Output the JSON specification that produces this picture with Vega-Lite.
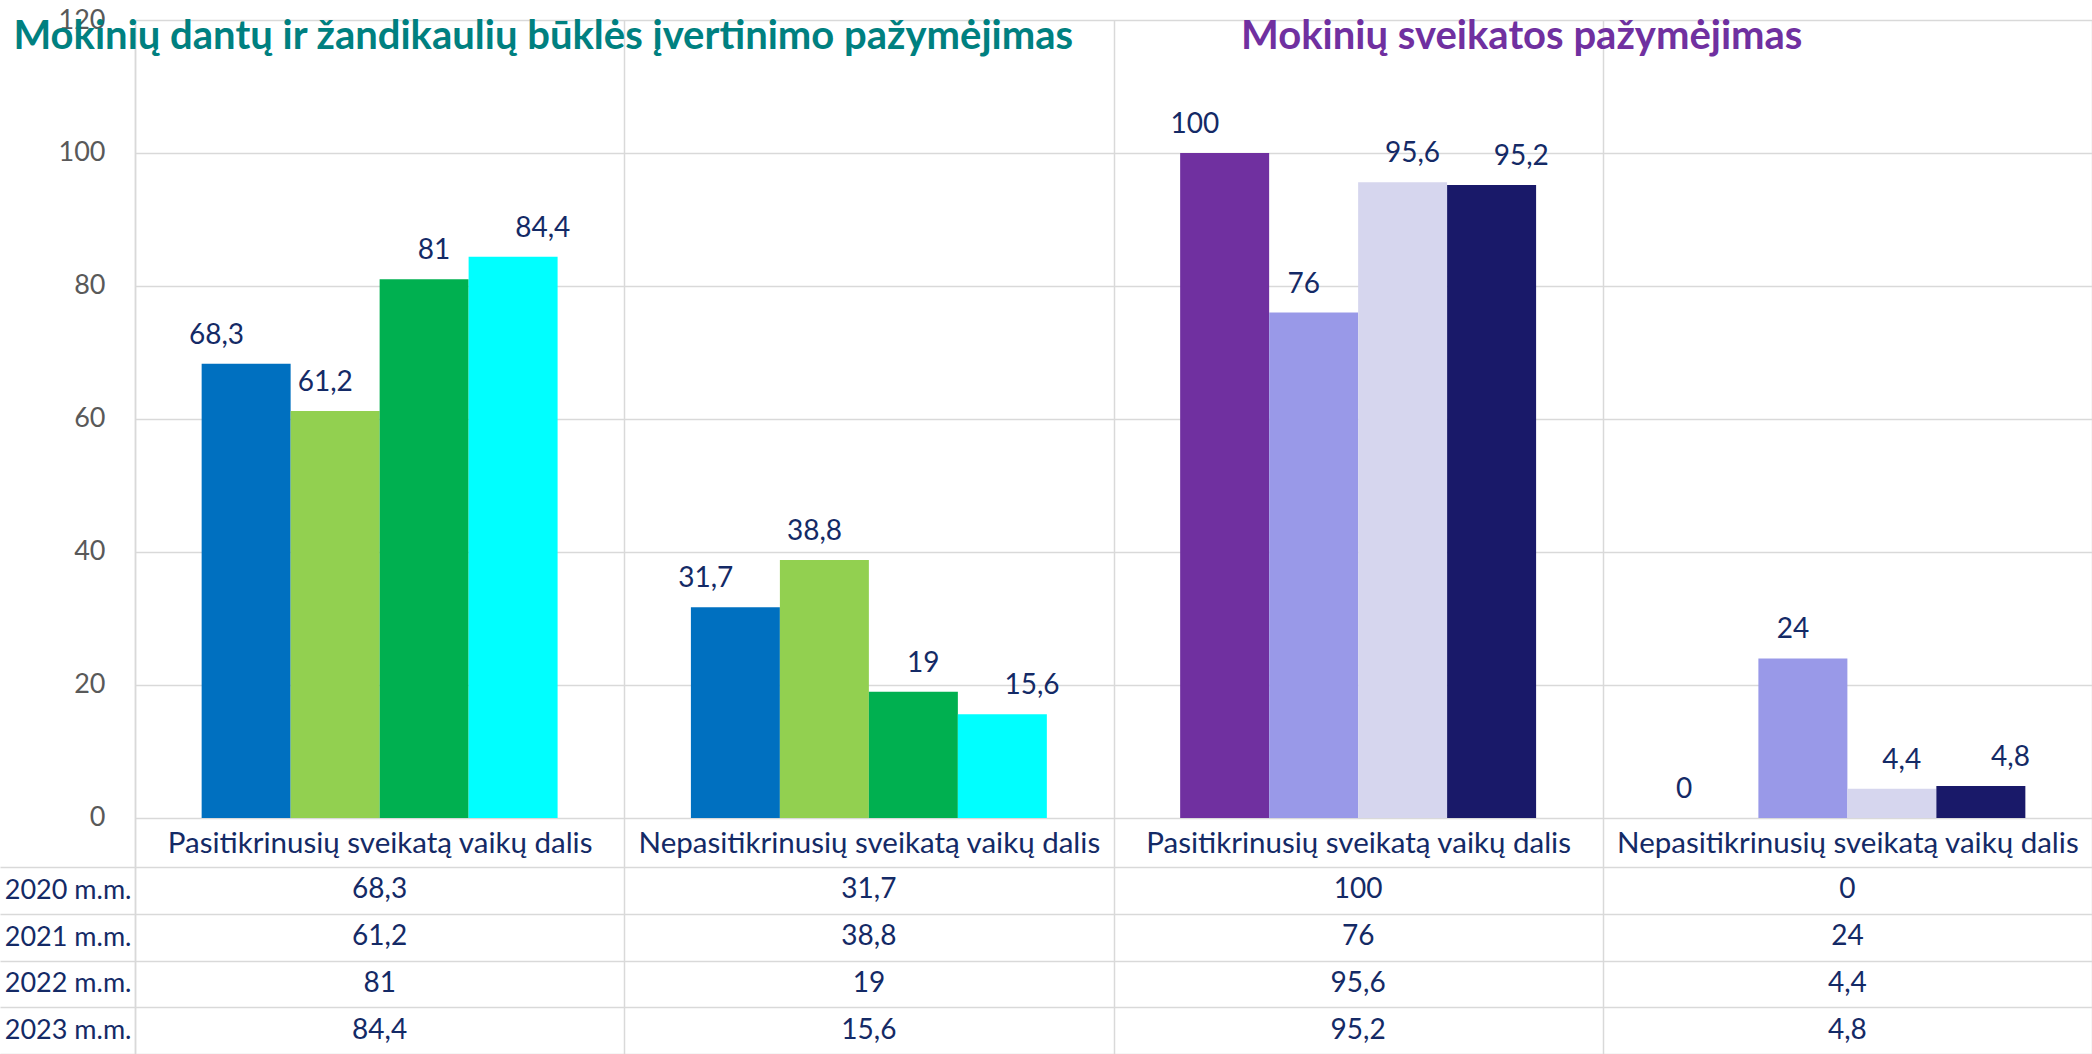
{
  "$schema": "https://vega.github.io/schema/vega-lite/v6.json",
  "width": 1957,
  "height": 1034,
  "autosize": {"type": "none"},
  "padding": {"left": 135, "top": 20, "right": 0, "bottom": 0},
  "background": "white",
  "config": {
    "view": {"stroke": null},
    "font": "Lato",
    "locale": {"number": {"decimal": ",", "thousands": " ", "grouping": [3], "currency": ["", " €"]}}
  },
  "datasets": {
    "duomenys": [
      {"grupe": "dantys", "stulpelis": "dantys|Pasitikrinusių sveikatą vaikų dalis", "metai": "2020 m.m.", "serija": "dantys 2020 m.m.", "reiksme": 68.3},
      {"grupe": "dantys", "stulpelis": "dantys|Pasitikrinusių sveikatą vaikų dalis", "metai": "2021 m.m.", "serija": "dantys 2021 m.m.", "reiksme": 61.2},
      {"grupe": "dantys", "stulpelis": "dantys|Pasitikrinusių sveikatą vaikų dalis", "metai": "2022 m.m.", "serija": "dantys 2022 m.m.", "reiksme": 81},
      {"grupe": "dantys", "stulpelis": "dantys|Pasitikrinusių sveikatą vaikų dalis", "metai": "2023 m.m.", "serija": "dantys 2023 m.m.", "reiksme": 84.4},
      {"grupe": "dantys", "stulpelis": "dantys|Nepasitikrinusių sveikatą vaikų dalis", "metai": "2020 m.m.", "serija": "dantys 2020 m.m.", "reiksme": 31.7},
      {"grupe": "dantys", "stulpelis": "dantys|Nepasitikrinusių sveikatą vaikų dalis", "metai": "2021 m.m.", "serija": "dantys 2021 m.m.", "reiksme": 38.8},
      {"grupe": "dantys", "stulpelis": "dantys|Nepasitikrinusių sveikatą vaikų dalis", "metai": "2022 m.m.", "serija": "dantys 2022 m.m.", "reiksme": 19},
      {"grupe": "dantys", "stulpelis": "dantys|Nepasitikrinusių sveikatą vaikų dalis", "metai": "2023 m.m.", "serija": "dantys 2023 m.m.", "reiksme": 15.6},
      {"grupe": "sveikata", "stulpelis": "sveikata|Pasitikrinusių sveikatą vaikų dalis", "metai": "2020 m.m.", "serija": "sveikata 2020 m.m.", "reiksme": 100},
      {"grupe": "sveikata", "stulpelis": "sveikata|Pasitikrinusių sveikatą vaikų dalis", "metai": "2021 m.m.", "serija": "sveikata 2021 m.m.", "reiksme": 76},
      {"grupe": "sveikata", "stulpelis": "sveikata|Pasitikrinusių sveikatą vaikų dalis", "metai": "2022 m.m.", "serija": "sveikata 2022 m.m.", "reiksme": 95.6},
      {"grupe": "sveikata", "stulpelis": "sveikata|Pasitikrinusių sveikatą vaikų dalis", "metai": "2023 m.m.", "serija": "sveikata 2023 m.m.", "reiksme": 95.2},
      {"grupe": "sveikata", "stulpelis": "sveikata|Nepasitikrinusių sveikatą vaikų dalis", "metai": "2020 m.m.", "serija": "sveikata 2020 m.m.", "reiksme": 0},
      {"grupe": "sveikata", "stulpelis": "sveikata|Nepasitikrinusių sveikatą vaikų dalis", "metai": "2021 m.m.", "serija": "sveikata 2021 m.m.", "reiksme": 24},
      {"grupe": "sveikata", "stulpelis": "sveikata|Nepasitikrinusių sveikatą vaikų dalis", "metai": "2022 m.m.", "serija": "sveikata 2022 m.m.", "reiksme": 4.4},
      {"grupe": "sveikata", "stulpelis": "sveikata|Nepasitikrinusių sveikatą vaikų dalis", "metai": "2023 m.m.", "serija": "sveikata 2023 m.m.", "reiksme": 4.8}
    ],
    "antrastes": [
      {"grupe": "dantys", "tekstas": "Mokinių dantų ir žandikaulių būklės įvertinimo pažymėjimas"},
      {"grupe": "sveikata", "tekstas": "Mokinių sveikatos pažymėjimas"}
    ]
  },
  "resolve": {"scale": {"x": "independent", "y": "independent", "color": "independent", "xOffset": "independent"}},
  "layer": [
    {
      "data": {"name": "duomenys"},
      "mark": {"type": "bar"},
      "encoding": {
        "x": {
          "field": "stulpelis", "type": "nominal",
          "scale": {"domain": ["dantys|Pasitikrinusių sveikatą vaikų dalis", "dantys|Nepasitikrinusių sveikatą vaikų dalis", "sveikata|Pasitikrinusių sveikatą vaikų dalis", "sveikata|Nepasitikrinusių sveikatą vaikų dalis"], "paddingInner": 0, "paddingOuter": 0},
          "axis": {"orient": "bottom", "offset": -236, "title": null, "domain": false, "ticks": false, "labelPadding": 25, "labelBaseline": "middle", "labelAngle": 0, "labelFont": "Lato", "labelFontSize": 29.5, "labelColor": "#142a66", "labelLimit": 0, "labelExpr": "split(datum.label, '|')[1]", "grid": true, "gridColor": "#d9d9d9", "gridWidth": 1.5, "tickBand": "extent"}
        },
        "xOffset": {"field": "metai", "type": "nominal", "scale": {"paddingInner": 0, "paddingOuter": 0.749}},
        "y": {
          "field": "reiksme", "type": "quantitative", "stack": null,
          "scale": {"domain": [-35.49, 120], "nice": false, "zero": false},
          "axis": {"orient": "left", "values": [0, 20, 40, 60, 80, 100, 120], "title": null, "ticks": false, "labelPadding": 30, "labelFont": "Lato", "labelFontSize": 27, "labelColor": "#595959", "grid": true, "gridColor": "#d9d9d9", "gridWidth": 1.5, "domain": true, "domainColor": "#d9d9d9", "domainWidth": 1.5}
        },
        "color": {
          "field": "serija", "type": "nominal", "legend": null,
          "scale": {
            "domain": ["dantys 2020 m.m.", "dantys 2021 m.m.", "dantys 2022 m.m.", "dantys 2023 m.m.", "sveikata 2020 m.m.", "sveikata 2021 m.m.", "sveikata 2022 m.m.", "sveikata 2023 m.m."],
            "range": ["#0070C0", "#92D050", "#00B050", "#00FFFF", "#7030A0", "#9999E8", "#D6D6EE", "#191969"]
          }
        }
      }
    },
    {
      "data": {"name": "duomenys"},
      "mark": {"type": "text", "fontSize": 28, "color": "#142a66", "align": "center", "baseline": "alphabetic", "dy": -20},
      "encoding": {
        "x": {"field": "stulpelis", "type": "nominal", "axis": null,
          "scale": {"domain": ["dantys|Pasitikrinusių sveikatą vaikų dalis", "dantys|Nepasitikrinusių sveikatą vaikų dalis", "sveikata|Pasitikrinusių sveikatą vaikų dalis", "sveikata|Nepasitikrinusių sveikatą vaikų dalis"], "paddingInner": 0, "paddingOuter": 0}},
        "xOffset": {"field": "metai", "type": "nominal", "scale": {"paddingInner": 0, "paddingOuter": 0.749}},
        "y": {"field": "reiksme", "type": "quantitative", "stack": null, "axis": null, "scale": {"domain": [-35.49, 120], "nice": false, "zero": false}},
        "text": {"field": "reiksme", "type": "quantitative", "format": "~r"}
      }
    },
    {
      "data": {"name": "duomenys"},
      "mark": {"type": "text", "fontSize": 28, "color": "#142a66", "align": "center", "baseline": "middle"},
      "encoding": {
        "x": {"field": "stulpelis", "type": "nominal", "axis": null,
          "scale": {"domain": ["dantys|Pasitikrinusių sveikatą vaikų dalis", "dantys|Nepasitikrinusių sveikatą vaikų dalis", "sveikata|Pasitikrinusių sveikatą vaikų dalis", "sveikata|Nepasitikrinusių sveikatą vaikų dalis"], "paddingInner": 0, "paddingOuter": 0}},
        "y": {"field": "metai", "type": "nominal",
          "scale": {"domain": ["2020 m.m.", "2021 m.m.", "2022 m.m.", "2023 m.m."], "range": [847, 1034], "paddingInner": 0, "paddingOuter": 0},
          "axis": {"orient": "left", "title": null, "domain": false, "ticks": true, "tickSize": 135, "tickColor": "#d9d9d9", "tickWidth": 1.5, "tickBand": "extent", "labelPadding": -131, "labelFont": "Lato", "labelFontSize": 27, "labelColor": "#142a66", "labelLimit": 0, "grid": true, "gridColor": "#d9d9d9", "gridWidth": 1.5}},
        "text": {"field": "reiksme", "type": "quantitative", "format": "~r"}
      }
    },
    {
      "data": {"name": "antrastes"},
      "mark": {"type": "text", "fontSize": 40, "fontWeight": "bold", "align": "center", "baseline": "alphabetic", "dx": -81, "dy": 29},
      "encoding": {
        "x": {"field": "grupe", "type": "nominal", "axis": null, "scale": {"domain": ["dantys", "sveikata"], "paddingInner": 0, "paddingOuter": 0}},
        "y": {"datum": 120, "type": "quantitative", "axis": null, "scale": {"domain": [-35.49, 120], "nice": false, "zero": false}},
        "color": {"field": "grupe", "type": "nominal", "legend": null, "scale": {"domain": ["dantys", "sveikata"], "range": ["#008080", "#7030A0"]}},
        "text": {"field": "tekstas"}
      }
    }
  ]
}
